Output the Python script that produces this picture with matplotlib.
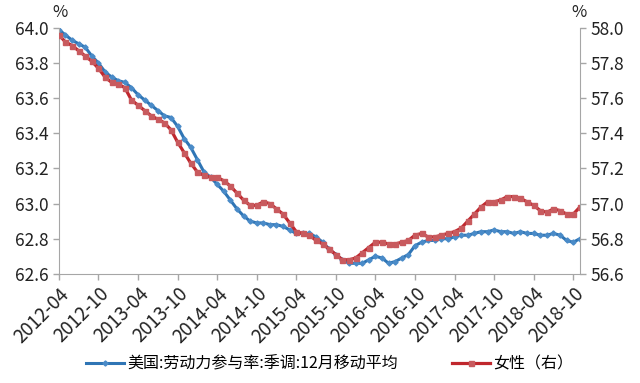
import matplotlib.pyplot as plt
import pandas as pd

plt.rcParams['font.family'] = ['Noto Sans CJK SC', 'DejaVu Sans']

months = pd.period_range('2012-04', '2018-11', freq='M')

us_lfpr = [63.99, 63.96, 63.93, 63.91, 63.89, 63.84, 63.80, 63.75, 63.72, 63.70,
           63.69, 63.66, 63.62, 63.59, 63.56, 63.53, 63.50, 63.49, 63.44, 63.37,
           63.32, 63.25, 63.18, 63.15, 63.11, 63.07, 63.02, 62.97, 62.93, 62.90,
           62.89, 62.89, 62.88, 62.88, 62.87, 62.85, 62.83, 62.83, 62.83, 62.81,
           62.78, 62.74, 62.71, 62.68, 62.66, 62.66, 62.66, 62.68, 62.70, 62.69,
           62.66, 62.67, 62.69, 62.71, 62.76, 62.78, 62.79, 62.79, 62.80, 62.80,
           62.81, 62.82, 62.82, 62.83, 62.84, 62.84, 62.85, 62.84, 62.84, 62.83,
           62.84, 62.83, 62.83, 62.82, 62.82, 62.83, 62.82, 62.79, 62.78, 62.80]

women = [57.96, 57.92, 57.90, 57.87, 57.84, 57.81, 57.77, 57.72, 57.69, 57.68,
         57.66, 57.59, 57.56, 57.53, 57.50, 57.48, 57.46, 57.42, 57.35, 57.29,
         57.23, 57.18, 57.16, 57.15, 57.15, 57.13, 57.10, 57.06, 57.02, 56.99,
         56.99, 57.01, 57.00, 56.97, 56.94, 56.89, 56.84, 56.83, 56.82, 56.79,
         56.77, 56.74, 56.71, 56.68, 56.68, 56.69, 56.72, 56.75, 56.78, 56.78,
         56.77, 56.77, 56.78, 56.79, 56.82, 56.83, 56.81, 56.81, 56.82, 56.83,
         56.84, 56.86, 56.90, 56.94, 56.98, 57.01, 57.01, 57.02, 57.04, 57.04,
         57.03, 57.01, 56.99, 56.96, 56.95, 56.97, 56.96, 56.94, 56.94, 56.98]

left_ticks = [62.6, 62.8, 63.0, 63.2, 63.4, 63.6, 63.8, 64.0]
right_ticks = [56.6, 56.8, 57.0, 57.2, 57.4, 57.6, 57.8, 58.0]

blue = '#2F75B5'
red = '#C0272D'
grey = '#A6A6A6'

x = list(range(len(months)))
xlabels = [str(m) for m in months]

fig = plt.figure(figsize=(6.4, 3.83), dpi=100)
ax = fig.add_axes([0.092, 0.285, 0.814, 0.642])
ax2 = ax.twinx()

l1, = ax.plot(x, us_lfpr, color=blue, lw=2.2, marker='D', ms=2.6,
              markerfacecolor='#4A8BC8', markeredgecolor='#4A8BC8',
              label='美国:劳动力参与率:季调:12月移动平均')
l2, = ax2.plot(x, women, color=red, lw=2.3, marker='s', ms=3.6,
               markerfacecolor='#C85A5E', markeredgecolor='#C85A5E',
               label='女性（右）')

ax.set_xlim(0, len(months) - 1)
ax.set_ylim(62.6, 64.0)
ax2.set_ylim(56.6, 58.0)
ax.set_yticks(left_ticks)
ax.set_yticklabels([f'{v:.1f}' for v in left_ticks])
ax2.set_yticks(right_ticks)
ax2.set_yticklabels([f'{v:.1f}' for v in right_ticks])

tick_pos = x[::6]
ax.set_xticks(tick_pos)
ax.set_xticklabels([xlabels[i] for i in tick_pos], rotation=45, ha='right',
                   rotation_mode='anchor', fontsize=13.5)

for a in (ax, ax2):
    a.spines['top'].set_visible(False)
    for s in ('left', 'right', 'bottom'):
        a.spines[s].set_color(grey)
    a.tick_params(axis='both', colors=grey, labelcolor='#222222', length=4, width=1)
    a.tick_params(axis='y', labelsize=12.5)
ax.tick_params(axis='x', pad=3)
ax.spines['right'].set_visible(False)
ax2.spines['left'].set_visible(False)
ax2.spines['bottom'].set_visible(False)

fig.text(0.082, 0.945, '%', fontsize=12, ha='left', va='bottom', color='#222222')
fig.text(0.893, 0.945, '%', fontsize=12, ha='left', va='bottom', color='#222222')

fig.legend(handles=[l1, l2], loc='lower center', bbox_to_anchor=(0.515, -0.010),
           ncol=2, frameon=False, fontsize=11.5, handlelength=2.4,
           columnspacing=3.4, handletextpad=0.2)

fig.savefig('out.png', dpi=100)
